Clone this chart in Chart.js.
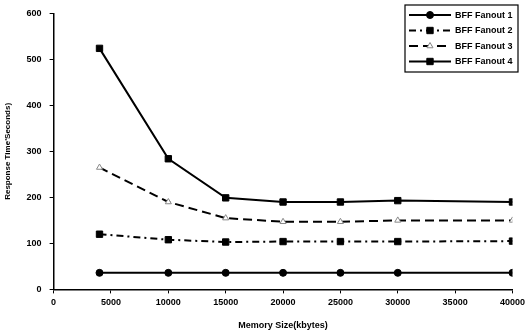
<!DOCTYPE html>
<html>
<head>
<meta charset="utf-8">
<script src="https://cdn.jsdelivr.net/npm/chart.js@4.4.0/dist/chart.umd.min.js"></script>
<style>
  html, body { margin: 0; padding: 0; background: #fff; }
  #wrap { width: 529px; height: 332px; }
</style>
</head>
<body>
<div id="wrap"><canvas id="chart" width="529" height="332"></canvas></div>
<script>
// data
const memorySizes = [4000, 10000, 15000, 20000, 25000, 30000, 40000];
const fanout1 = [36, 36, 36, 36, 36, 36, 36];
const fanout2 = [120, 108, 103, 104, 104, 104, 105];
const fanout3 = [265, 190, 155, 147, 147, 150, 150];
const fanout4 = [524, 284, 199, 190, 190, 193, 190];
const seriesNames = ['BFF Fanout 1', 'BFF Fanout 2', 'BFF Fanout 3', 'BFF Fanout 4'];

const FONT = '"Liberation Sans", Arial, sans-serif';

function pts(vals) {
  return memorySizes.map((x, i) => ({ x: x, y: vals[i] }));
}

// legend drawn inside the plot, line sample + marker like the original
const boxLegend = {
  id: 'boxLegend',
  afterDraw(chart) {
    const ctx = chart.ctx;
    const x0 = 405, y0 = 5, w = 113, h = 67;
    ctx.save();
    ctx.fillStyle = '#fff';
    ctx.fillRect(x0, y0, w, h);
    ctx.strokeStyle = '#000';
    ctx.lineWidth = 1.2;
    ctx.strokeRect(x0, y0, w, h);
    chart.data.datasets.forEach((ds, i) => {
      const y = y0 + 10 + i * 15.5;
      ctx.strokeStyle = '#000';
      ctx.lineWidth = ds.borderWidth;
      ctx.setLineDash(ds.borderDash || []);
      ctx.beginPath();
      ctx.moveTo(x0 + 4, y);
      ctx.lineTo(x0 + 46, y);
      ctx.stroke();
      ctx.setLineDash([]);
      // marker
      ctx.fillStyle = ds.pointBackgroundColor;
      ctx.strokeStyle = ds.pointBorderColor;
      ctx.lineWidth = ds.pointBorderWidth;
      Chart.helpers.drawPoint(ctx, {
        pointStyle: ds.pointStyle,
        radius: ds.pointRadius,
        borderWidth: ds.pointBorderWidth
      }, x0 + 25, y);
      ctx.fillStyle = '#000';
      ctx.font = 'bold 9px ' + FONT;
      ctx.textBaseline = 'middle';
      ctx.fillText(ds.label, x0 + 50, y + 0.5);
    });
    ctx.restore();
  }
};

new Chart(document.getElementById('chart'), {
  type: 'line',
  data: {
    datasets: [
      {
        label: seriesNames[0], data: pts(fanout1),
        borderColor: '#000', borderWidth: 2,
        pointStyle: 'circle', pointRadius: 3.5,
        pointBackgroundColor: '#000', pointBorderColor: '#000', pointBorderWidth: 1
      },
      {
        label: seriesNames[1], data: pts(fanout2),
        borderColor: '#000', borderWidth: 2, borderDash: [7, 4, 2, 4],
        pointStyle: 'rect', pointRadius: 4.5,
        pointBackgroundColor: '#000', pointBorderColor: '#000', pointBorderWidth: 1
      },
      {
        label: seriesNames[2], data: pts(fanout3),
        borderColor: '#000', borderWidth: 2, borderDash: [9, 5],
        pointStyle: 'triangle', pointRadius: 3.5,
        pointBackgroundColor: '#fff', pointBorderColor: '#888', pointBorderWidth: 1
      },
      {
        label: seriesNames[3], data: pts(fanout4),
        borderColor: '#000', borderWidth: 2,
        pointStyle: 'rect', pointRadius: 4.5,
        pointBackgroundColor: '#000', pointBorderColor: '#000', pointBorderWidth: 1
      }
    ]
  },
  options: {
    responsive: false,
    animation: false,
    layout: { autoPadding: false, padding: { top: 12, right: 9, left: 3, bottom: 1 } },
    plugins: {
      legend: { display: false },
      tooltip: { enabled: false }
    },
    scales: {
      x: {
        type: 'linear', min: 0, max: 40000,
        ticks: {
          stepSize: 5000, color: '#000', font: { family: FONT, size: 9, weight: 'bold' },
          maxRotation: 0, padding: 4,
          callback: v => String(v)
        },
        grid: { drawOnChartArea: false, drawTicks: true, tickLength: 4, color: '#000' },
        border: { color: '#000', width: 1.5 },
        title: { display: true, text: 'Memory Size(kbytes)', color: '#000', font: { family: FONT, size: 9, weight: 'bold' }, padding: { top: 8, bottom: 0 } }
      },
      y: {
        min: 0, max: 600,
        ticks: { stepSize: 100, color: '#000', font: { family: FONT, size: 9, weight: 'bold' }, padding: 8 },
        grid: { drawOnChartArea: false, drawTicks: true, tickLength: 4, color: '#000' },
        border: { color: '#000', width: 1.5 },
        title: { display: true, text: "Response Time'Seconds)", color: '#000', font: { family: FONT, size: 8, weight: 'bold' }, padding: { top: 0, bottom: 6 } }
      }
    }
  },
  plugins: [boxLegend]
});
</script>
</body>
</html>
